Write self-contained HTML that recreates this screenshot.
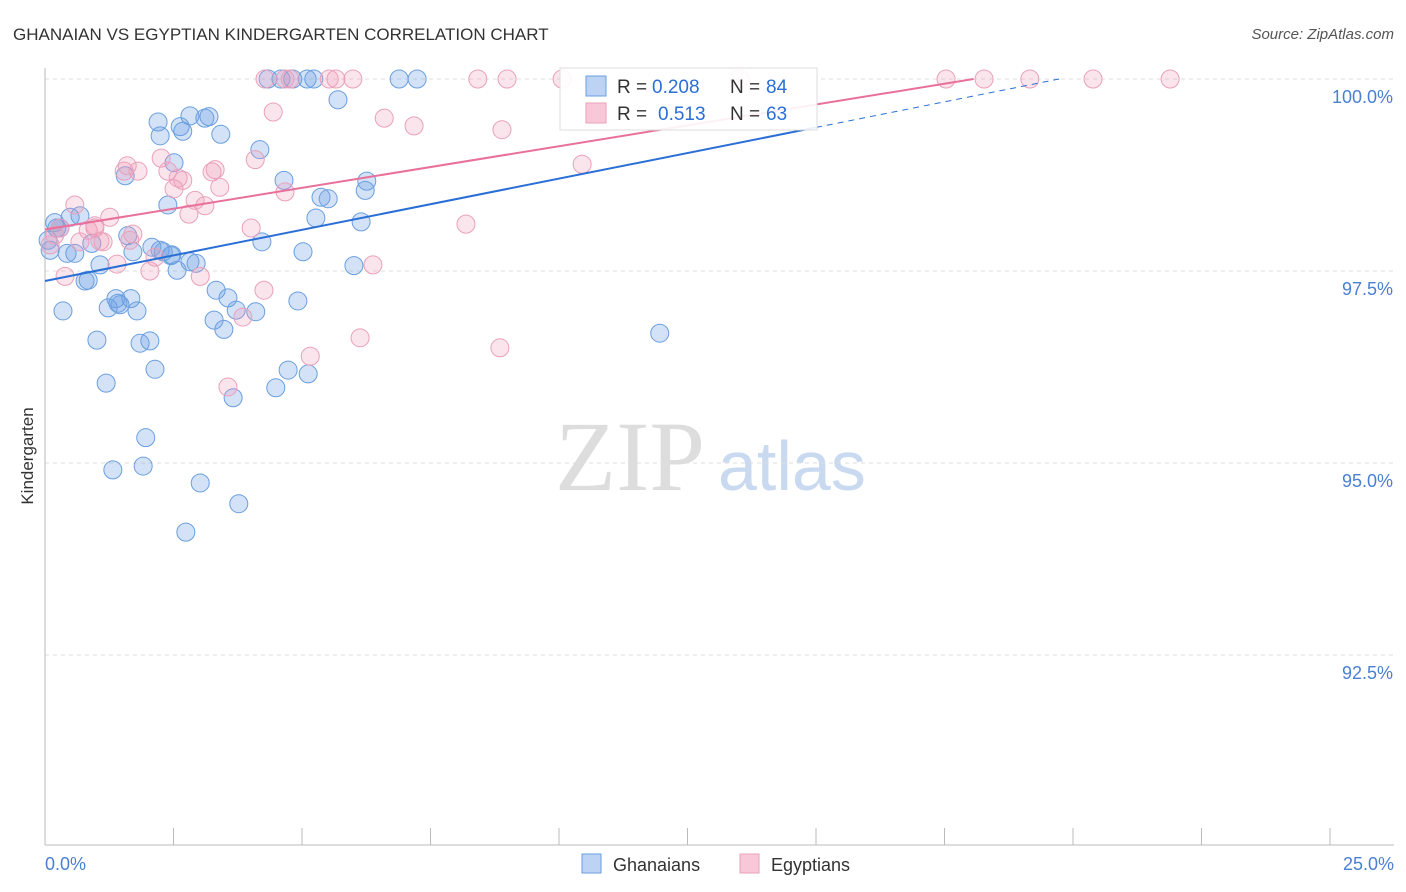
<!DOCTYPE html>
<html><head><meta charset="utf-8"><style>
body{margin:0;background:#fff;font-family:"Liberation Sans",sans-serif;}
#wrap{position:relative;width:1406px;height:892px;overflow:hidden;}
</style></head><body>
<div id="wrap">
<svg id="svg" width="1406" height="892" xmlns="http://www.w3.org/2000/svg">
<text x="13" y="40" font-size="17" fill="#333">GHANAIAN VS EGYPTIAN KINDERGARTEN CORRELATION CHART</text>
<text x="1394" y="39" font-size="15" fill="#555" font-style="italic" text-anchor="end">Source: ZipAtlas.com</text>
<text x="0" y="0" transform="translate(33,456) rotate(-90)" font-size="17" fill="#333" text-anchor="middle">Kindergarten</text>
<text x="555" y="490" font-size="100" fill="#ddd" font-family="Liberation Serif,serif">ZIP</text>
<text x="718" y="490" font-size="70" fill="#c8d9f0">atlas</text>
<g id="grid"></g><g id="pts"></g><g id="lines"></g>
</svg>
</div>
<script>
const xTicks=[0,2.5,5,7.5,10,12.5,15,17.5,20,22.5,25];
const yTicks=[92.5,95,97.5,100];
const yTickLabels=["92.5%","95.0%","97.5%","100.0%"];
const blueX=[0.19,0.29,0.43,0.58,0.68,0.78,0.84,0.35,1.01,1.07,1.19,1.23,1.32,1.38,1.46,1.56,1.61,1.67,1.79,1.85,1.91,1.96,2.04,2.08,2.14,2.20,2.24,2.30,2.39,2.45,2.51,2.57,2.63,2.68,2.74,2.82,2.94,3.02,3.11,3.19,3.33,3.29,3.42,3.48,3.56,3.66,3.72,3.77,4.10,4.18,4.22,4.34,4.49,4.59,4.65,4.73,4.82,4.92,5.02,5.10,5.12,5.23,5.27,5.37,5.51,5.70,6.01,6.15,6.23,6.26,6.89,7.24,11.96,0.06,0.10,0.23,0.49,0.91,1.71,1.42,2.24,2.47,2.82];
const blueY=[98.13,98.06,97.73,97.73,98.22,97.37,97.38,96.98,96.60,97.58,96.04,97.02,94.91,97.14,97.06,98.74,97.96,97.14,96.98,96.56,94.96,95.33,96.59,97.81,96.22,99.44,99.26,97.75,98.36,97.70,98.91,97.51,99.38,99.32,94.10,99.52,97.60,94.74,99.49,99.51,97.25,96.86,99.28,96.74,97.15,95.85,96.99,94.47,96.97,99.08,97.88,100,95.98,100,98.68,96.21,100,97.11,97.75,100,96.16,100,98.19,98.46,98.44,99.73,97.57,98.14,98.55,98.67,100,100,96.69,97.90,97.77,98.06,98.20,97.86,97.75,97.08,97.77,97.71,97.62];
const pinkX=[0.10,0.19,0.29,0.39,0.58,0.68,0.84,0.97,1.13,1.26,1.40,1.54,1.60,1.71,1.81,2.04,2.14,2.26,2.39,2.51,2.59,2.68,2.80,2.92,3.02,3.11,3.25,3.40,3.56,3.85,4.01,4.09,4.26,4.28,4.44,4.67,4.77,5.16,5.53,5.66,5.99,6.13,6.38,6.60,7.18,8.19,8.42,8.85,8.89,8.99,10.06,10.45,13.52,17.53,18.27,19.16,20.39,21.89,0.97,1.07,1.65,3.31,4.67];
const pinkY=[97.84,97.97,98.06,97.43,98.36,97.88,98.03,98.06,97.88,98.20,97.59,98.80,98.87,97.98,98.80,97.50,97.68,98.97,98.80,98.57,98.71,98.68,98.24,98.42,97.43,98.35,98.79,98.59,95.99,96.90,98.06,98.95,97.25,100,99.57,98.53,100,96.39,100,100,100,96.63,97.58,99.49,99.39,98.11,100,96.50,99.34,100,100,98.89,100,100,100,100,100,100,98.09,97.89,97.90,98.82,100];
const blueTrend=[97.37,0.1333];
const pinkTrend=[98.04,0.1085];
const X=v=>45+v*51.4, Y=v=>79+(100-v)*76.8;
const NS="http://www.w3.org/2000/svg";
function mk(tag,attrs,parent){const e=document.createElementNS(NS,tag);for(const k in attrs)e.setAttribute(k,attrs[k]);parent.appendChild(e);return e;}
const g=document.getElementById('grid');
yTicks.forEach((t,i)=>{
 const l=mk('line',{x1:45,x2:1394,y1:Y(t),y2:Y(t),stroke:'#ddd','stroke-dasharray':'4,4'},g);
 
 
 const tx=mk('text',{x:1393,y:Y(t)+24,'font-size':18,fill:'#4a7fd4','text-anchor':'end'},g);
 tx.textContent=yTickLabels[i];
 
 
});
const ax=mk('line',{x1:45,x2:45,y1:68,y2:845,stroke:'#bbb'},g);


const bx=mk('line',{x1:45,x2:1394,y1:845,y2:845,stroke:'#bbb'},g);


xTicks.forEach(t=>{
 const l=mk('line',{x1:X(t),x2:X(t),y1:828,y2:845,stroke:'#bbb'},g);
 
 
});
[[0,'0.0%','start',45],[25,'25.0%','end',1394]].forEach(a=>{
 const tx=mk('text',{x:a[3],y:870,'font-size':18,fill:'#4a7fd4','text-anchor':a[2]},g);
 tx.textContent=a[1];
 
 
});
const p=document.getElementById('pts');
blueX.forEach((x,i)=>{
 const c=mk('circle',{cx:X(x),cy:Y(blueY[i]),r:9,fill:'rgba(110,160,230,0.3)',stroke:'#6a9fe0','stroke-width':1},p);
 
 
});
pinkX.forEach((x,i)=>{
 const c=mk('circle',{cx:X(x),cy:Y(pinkY[i]),r:9,fill:'rgba(240,150,180,0.25)',stroke:'#eaa0bb','stroke-width':1},p);
 
 
});
const L=document.getElementById('lines');
const bEnd=(100-blueTrend[0])/blueTrend[1];
const b1=mk('line',{x1:X(0),y1:Y(blueTrend[0]),x2:X(15),y2:Y(blueTrend[0]+15*blueTrend[1]),stroke:'#2a6fd6','stroke-width':2},L);


const b2=mk('line',{x1:X(15),y1:Y(blueTrend[0]+15*blueTrend[1]),x2:X(bEnd),y2:Y(100),stroke:'#2a6fd6','stroke-width':1,'stroke-dasharray':'6,5'},L);


const pEnd=(100-pinkTrend[0])/pinkTrend[1];
const p1=mk('line',{x1:X(0),y1:Y(pinkTrend[0]),x2:X(pEnd),y2:Y(100),stroke:'#e8709a','stroke-width':2},L);


</script>
<svg width="1406" height="892" style="position:absolute;left:0;top:0">
<g>
<rect x="560" y="68" width="257" height="62" fill="#fff" fill-opacity="0.9" stroke="#ddd"/>
<rect x="586" y="76" width="20" height="20" fill="#bcd3f3" stroke="#6a9fe0"/>
<rect x="586" y="103" width="20" height="20" fill="#f8c8d8" stroke="#eaa0bb"/>
<text x="617" y="93" font-size="19" fill="#333">R =</text>
<text x="652" y="93" font-size="19" fill="#2a6fd6">0.208</text>
<text x="730" y="93" font-size="19" fill="#333">N =</text>
<text x="766" y="93" font-size="19" fill="#2a6fd6">84</text>
<text x="617" y="120" font-size="19" fill="#333">R =</text>
<text x="658" y="120" font-size="19" fill="#2a6fd6">0.513</text>
<text x="730" y="120" font-size="19" fill="#333">N =</text>
<text x="766" y="120" font-size="19" fill="#2a6fd6">63</text>
</g>
<g>
<rect x="582" y="854" width="19" height="19" fill="#bcd3f3" stroke="#6a9fe0"/>
<text x="613" y="871" font-size="18" fill="#333">Ghanaians</text>
<rect x="740" y="854" width="19" height="19" fill="#f8c8d8" stroke="#eaa0bb"/>
<text x="771" y="871" font-size="18" fill="#333">Egyptians</text>
</g>
</svg>
</body></html>
